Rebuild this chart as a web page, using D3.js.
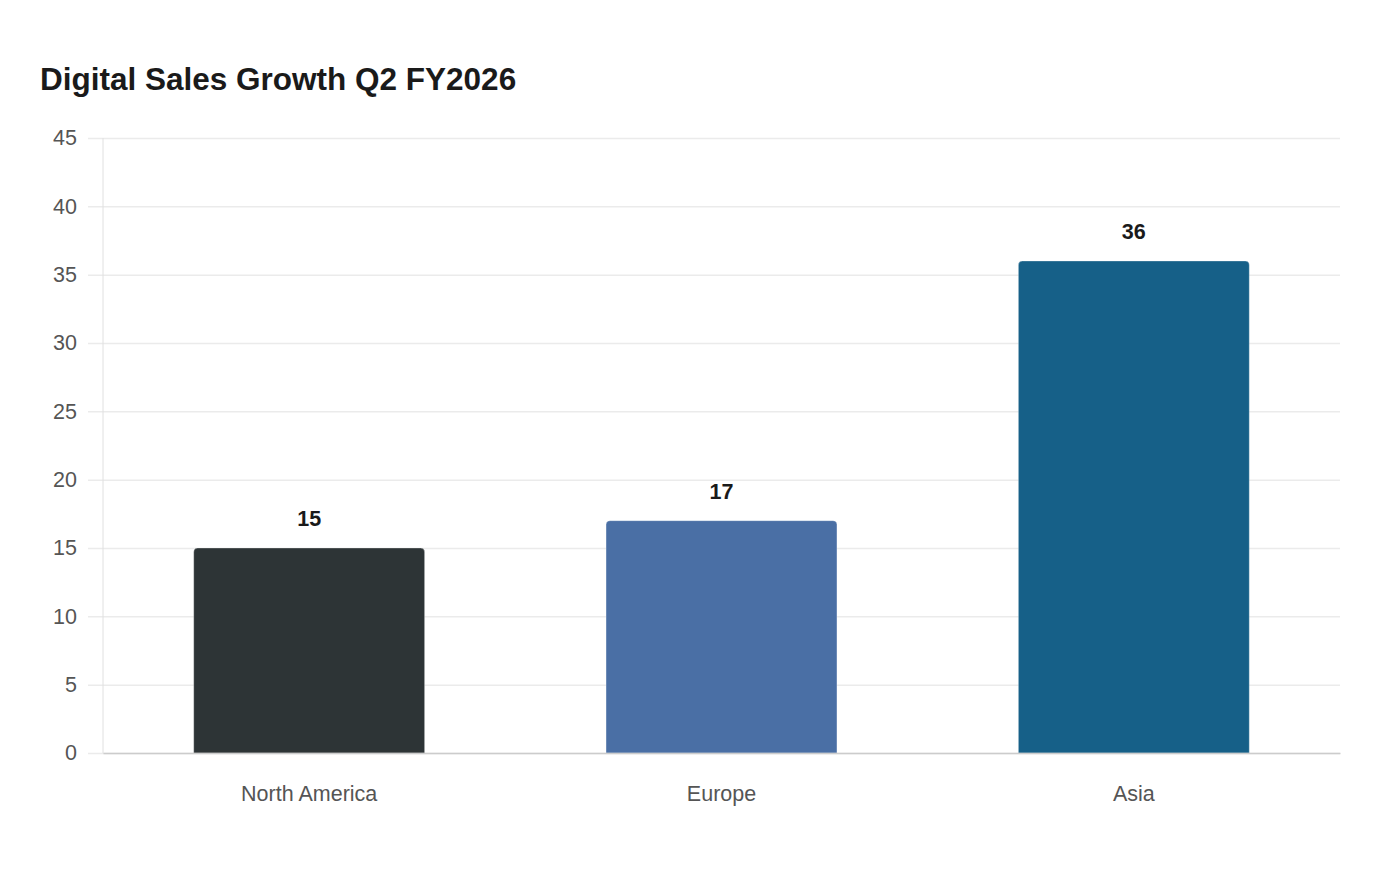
<!DOCTYPE html>
<html lang="en">
<head>
    <meta charset="UTF-8">
    <title>Digital Sales Growth Q2 FY2026</title>
    <script src="https://d3js.org/d3.v7.min.js"></script>
    <style>
        body, html {
            margin: 0;
            padding: 0;
            background: #fff;
        }
        svg, svg text {
            font-family: Arial, Helvetica, "Liberation Sans", sans-serif;
        }
    </style>
</head>
<body>
    <script>
        'use strict'

        // data
        const regions = ['North America', 'Europe', 'Asia']
        const growth = [15, 17, 36]
        const barColors = ['#2d3436', '#4a6fa5', '#166088']
        const yTicks = [0, 5, 10, 15, 20, 25, 30, 35, 40, 45]

        const font = 'Arial, Helvetica, "Liberation Sans", sans-serif'
        const width = 1400
        const height = 880
        const margin = {top: 138, right: 60, bottom: 127, left: 103}
        const w = width - margin.left - margin.right
        const h = height - margin.top - margin.bottom

        const svg = d3.select('body')
            .append('svg')
            .attr('width', width)
            .attr('height', height)

        svg.append('text')
            .text('Digital Sales Growth Q2 FY2026')
            .attr('x', 40)
            .attr('y', 90)
            .style('font-size', '31.5px')
            .style('font-weight', 'bold')
            .style('font-family', font)
            .attr('fill', '#1a1a1a')

        const g = svg.append('g')
            .attr('transform', `translate(${margin.left}, ${margin.top})`)

        const x = d3.scaleBand()
            .domain(regions)
            .range([0, w])
            .paddingInner(0.44)
            .paddingOuter(0.22)

        const y = d3.scaleLinear()
            .domain([0, 45])
            .range([h, 0])

        // gridlines + y labels
        const yAxis = g.append('g')
            .call(d3.axisLeft(y).tickValues(yTicks).tickSize(-w - 15).tickPadding(11))
            .attr('transform', 'translate(-15, 0)')
        yAxis.select('.domain').remove()
        yAxis.selectAll('.tick line')
            .attr('stroke', '#ebebeb')
            .attr('stroke-width', 1.5)
        yAxis.selectAll('.tick text')
            .attr('fill', '#555')
            .style('font-size', '21.5px')
            .style('font-family', font)

        // y axis line
        g.append('line')
            .attr('x1', 0).attr('x2', 0)
            .attr('y1', 0).attr('y2', h)
            .attr('stroke', '#e0e0e0')

        // bars, rounded top corners
        const r = 4
        const barPath = (d, i) => {
            const x0 = x(regions[i])
            const x1 = x0 + x.bandwidth()
            const y0 = y(d)
            const yb = y(0)
            return `M${x0},${yb} V${y0 + r} Q${x0},${y0} ${x0 + r},${y0} H${x1 - r} Q${x1},${y0} ${x1},${y0 + r} V${yb} Z`
        }

        g.selectAll('path.bar')
            .data(growth)
            .enter()
            .append('path')
            .attr('class', 'bar')
            .attr('d', barPath)
            .attr('fill', (d, i) => barColors[i])
            .attr('stroke', '#ffffff')
            .attr('stroke-opacity', 0.3)
            .attr('stroke-width', 1)

        g.selectAll('text.value')
            .data(growth)
            .enter()
            .append('text')
            .attr('class', 'value')
            .text(d => d)
            .attr('x', (d, i) => x(regions[i]) + x.bandwidth() / 2)
            .attr('y', d => y(d) - 22)
            .attr('text-anchor', 'middle')
            .style('font-size', '21.5px')
            .style('font-weight', 'bold')
            .style('font-family', font)
            .attr('fill', '#1a1a1a')

        // x axis
        const xAxis = g.append('g')
            .attr('transform', `translate(0, ${h})`)
            .call(d3.axisBottom(x).tickSize(0).tickPadding(33))
        xAxis.select('.domain')
            .attr('stroke', '#cccccc')
            .attr('stroke-width', 1.5)
        xAxis.selectAll('.tick text')
            .attr('fill', '#555')
            .style('font-size', '21.5px')
            .style('font-family', font)
    </script>
</body>
</html>
